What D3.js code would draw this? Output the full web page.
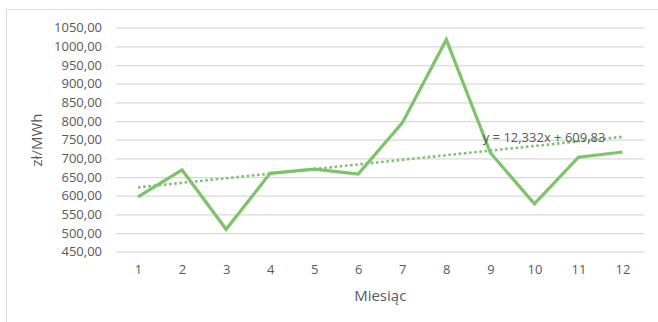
<!DOCTYPE html>
<html><head><meta charset="utf-8">
<script src="https://cdn.jsdelivr.net/npm/d3@7"></script>
<style>
html,body{margin:0;padding:0;background:#fff;}
svg{display:block;font-family:"Open Sans",sans-serif;}
</style></head>
<body>
<svg id="c" width="658" height="322"></svg>
<script>
const months = [1,2,3,4,5,6,7,8,9,10,11,12];
const prices = [597,669,510,660,671,658,795,1018,715,578,703,717];
const yTicks = [450,500,550,600,650,700,750,800,850,900,950,1000,1050];
const trendSlope = 12.332;
const trendIntercept = 609.83;
const trendLabel = "y = 12,332x + 609,83";
const yTitle = "zł/MWh";
const xTitle = "Miesiąc";

const svg = d3.select("#c");
const W = 658, H = 322;
const m = {left:116, right:644.5, top:27.7, bottom:251.7};

svg.append("rect").attr("x",6.5).attr("y",9.5).attr("width",W).attr("height",H)
  .attr("fill","#fff").attr("stroke","#d9d9d9").attr("stroke-width",1);

const x = d3.scalePoint().domain(months).range([m.left, m.right]).padding(0.5);
const y = d3.scaleLinear().domain([450,1050]).range([m.bottom, m.top]);

const fmt = v => d3.format(".2f")(v).replace(".", ",");

const yAxis = d3.axisLeft(y).tickValues(yTicks).tickSize(-(m.right-m.left)).tickFormat(fmt).tickPadding(14);
const gy = svg.append("g").attr("transform",`translate(${m.left},0)`).call(yAxis);
gy.select(".domain").remove();
gy.selectAll(".tick line").attr("stroke","#d9d9d9").attr("stroke-width",1.2);
gy.selectAll(".tick text").attr("fill","#595959").style("font-size","13px").style("font-family","'Open Sans',sans-serif");

const xAxis = d3.axisBottom(x).tickSize(0).tickPadding(13);
const gx = svg.append("g").attr("transform",`translate(0,${m.bottom})`).call(xAxis);
gx.select(".domain").remove();
gx.selectAll(".tick text").attr("fill","#595959").style("font-size","13px").style("font-family","'Open Sans',sans-serif");

const line = d3.line().x((d,i)=>x(months[i])).y(d=>y(d));
svg.append("path").datum(prices).attr("d",line).attr("fill","none")
  .attr("stroke","#7dc36b").attr("stroke-width",3.2).attr("stroke-linejoin","miter");

const tr = [months[0], months[months.length-1]];
svg.append("path").datum(tr)
  .attr("d", d3.line().x(d=>x(d)).y(d=>y(trendSlope*d+trendIntercept)))
  .attr("fill","none").attr("stroke","#7dc36b").attr("stroke-width",2.6).attr("stroke-dasharray","2.6 2.6");

svg.append("text").attr("x",482.7).attr("y",142).attr("fill","#595959")
  .style("font-size","13px").text(trendLabel);

svg.append("text").attr("transform",`translate(42,140) rotate(-90)`).attr("text-anchor","middle")
  .attr("fill","#595959").style("font-size","15px").text(yTitle);

svg.append("text").attr("x",(m.left+m.right)/2).attr("y",301).attr("text-anchor","middle")
  .attr("fill","#595959").style("font-size","15px").text(xTitle);
</script>
</body></html>
